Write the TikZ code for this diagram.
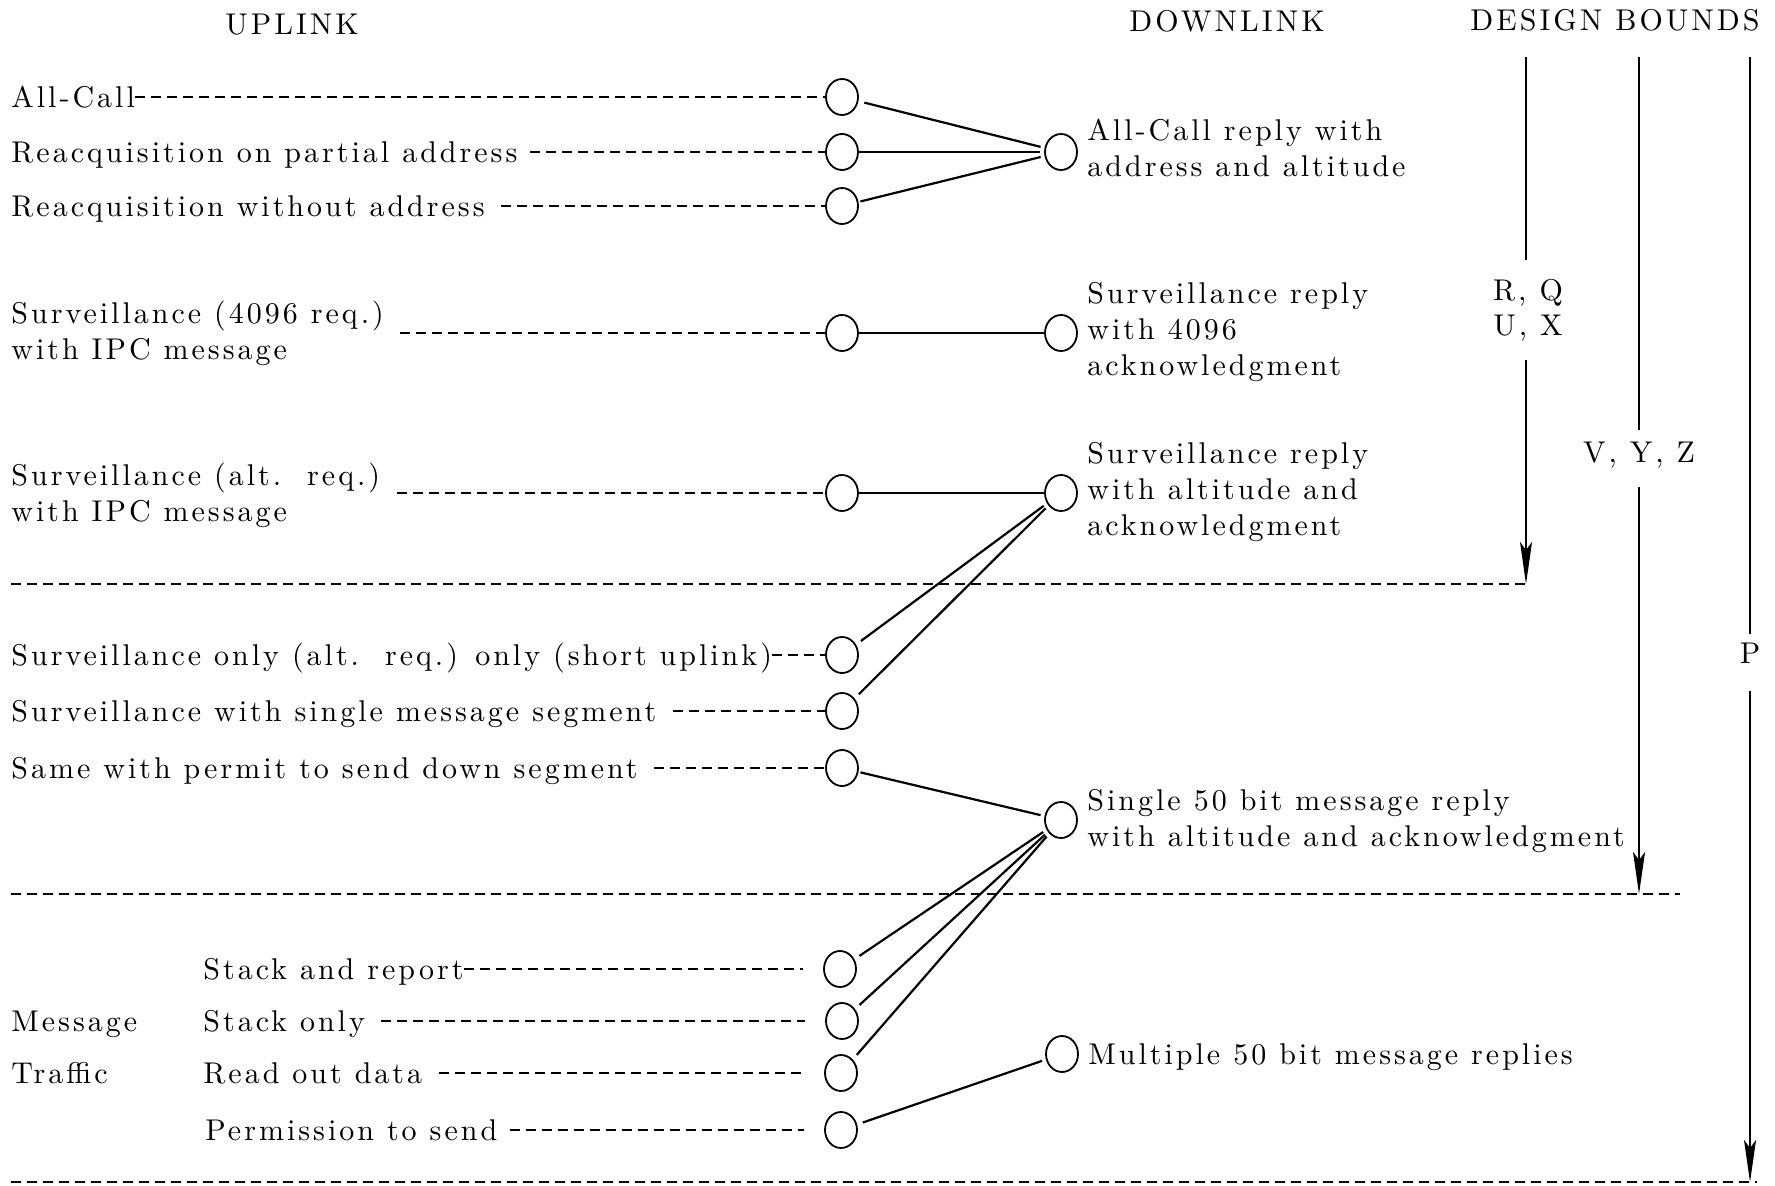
\documentclass[tikz,border=0pt]{standalone}
\usepackage{fontspec}
\setmainfont{lmroman10-regular}[Extension=.otf, LetterSpace=10]
\usetikzlibrary{arrows.meta,shapes.geometric}
\begin{document}
\begin{tikzpicture}[x=0.5pt,y=-0.5pt,
  every node/.style={font=\fontsize{15}{18}\selectfont, inner sep=0pt},
  lt/.style={anchor=mid west, yshift=-3pt},
  lt2/.style={anchor=west, align=left},
  hd/.style={anchor=center},
  dot/.style={draw, ellipse, minimum width=16pt, minimum height=18pt, line width=0.9pt},
  tdash/.style={dash pattern=on 5pt off 3pt, line width=0.9pt},
  sep/.style={dash pattern=on 5pt off 3pt, line width=1pt},
  conn/.style={line width=1.1pt},
  bnd/.style={line width=1.1pt},
  arr/.style={-{Stealth[length=21pt,width=6pt,inset=4pt]}}
]
\useasboundingbox (0,0) rectangle (1775,1186);

% headers
\node[hd] (hup) at (292,25) {UPLINK};
\node[hd] (hdown) at (1227,21) {DOWNLINK};
\node[hd] (hdb) at (1615,20) {DESIGN BOUNDS};

% uplink circles
\node[dot] (c1) at (842,97) {};
\node[dot] (c2) at (842,152) {};
\node[dot] (c3) at (842,206) {};
\node[dot] (c4) at (842,333) {};
\node[dot] (c5) at (842,493) {};
\node[dot] (c6) at (842,655) {};
\node[dot] (c7) at (842,711) {};
\node[dot] (c8) at (842,768) {};
\node[dot] (c9) at (840,969) {};
\node[dot] (c10) at (842,1021) {};
\node[dot] (c11) at (841,1073) {};
\node[dot] (c12) at (841,1130) {};

% downlink circles
\node[dot] (d1) at (1061,152) {};
\node[dot] (d2) at (1061,333) {};
\node[dot] (d3) at (1061,493) {};
\node[dot] (d4) at (1061,820) {};
\node[dot] (d5) at (1062,1054) {};

% uplink texts
\node[lt] (t1) at (11,97) {All-Call};
\node[lt] (t2) at (11,152) {Reacquisition on partial address};
\node[lt] (t3) at (11,206) {Reacquisition without address};
\node[lt2] (t4) at (11,333) {Surveillance (4096 req.)\\with IPC message};
\node[lt2] (t5) at (11,495) {Surveillance (alt.\ \ req.)\\with IPC message};
\node[lt] (t6) at (11,655) {Surveillance only (alt.\ \ req.) only (short uplink)};
\node[lt] (t7) at (11,711) {Surveillance with single message segment};
\node[lt] (t8) at (11,768) {Same with permit to send down segment};
\node[lt] (msg) at (11,1021) {Message};
\node[lt] (trf) at (11,1073) {Traffic};
\node[lt] (t9) at (203,969) {Stack and report};
\node[lt] (t10) at (203,1021) {Stack only};
\node[lt] (t11) at (203,1073) {Read out data};
\node[lt] (t12) at (205,1130) {Permission to send};

% downlink texts
\node[lt2] (e1) at (1087,148) {All-Call reply with\\address and altitude};
\node[lt2] (e2) at (1087,332) {Surveillance reply\\with 4096\\acknowledgment};
\node[lt2] (e3) at (1087,492) {Surveillance reply\\with altitude and\\acknowledgment};
\node[lt2] (e4) at (1087,821) {Single 50 bit message reply\\with altitude and acknowledgment};
\node[lt] (e5) at (1088,1054) {Multiple 50 bit message replies};

% dashed leaders
\draw[tdash] (t1.east |- c1) -- (c1.west);
\draw[tdash,shorten <=6pt] (t2.east |- c2) -- (c2.west);
\draw[tdash,shorten <=8pt] (t3.east |- c3) -- (c3.west);
\draw[tdash,shorten <=8pt] (t4.east |- c4) -- (c4.west);
\draw[tdash,shorten <=8pt] (t5.east |- c5) -- (c5.west);
\draw[tdash] (t6.east |- c6) -- (c6.west);
\draw[tdash,shorten <=8pt] (t7.east |- c7) -- (c7.west);
\draw[tdash,shorten <=8pt] (t8.east |- c8) -- (c8.west);
\draw[tdash,shorten >=10pt] (t9.east |- c9) -- (c9.west);
\draw[tdash,shorten <=8pt,shorten >=10pt] (t10.east |- c10) -- (c10.west);
\draw[tdash,shorten <=8pt,shorten >=10pt] (t11.east |- c11) -- (c11.west);
\draw[tdash,shorten <=6pt,shorten >=10pt] (t12.east |- c12) -- (c12.west);

% connectors
\draw[conn,shorten <=3pt,shorten >=2pt] (c1) -- (d1);
\draw[conn,shorten >=2pt] (c2) -- (d1);
\draw[conn,shorten <=1pt,shorten >=2pt] (c3) -- (d1);
\draw[conn] (c4) -- (d2);
\draw[conn] (c5) -- (d3);
\draw[conn,shorten <=3pt,shorten >=2pt] (c6) -- (d3);
\draw[conn,shorten <=3pt,shorten >=2pt] (c7) -- (d3);
\draw[conn,shorten <=1pt,shorten >=2pt] (c8) -- (d4);
\draw[conn,shorten <=3pt,shorten >=2pt] (c9) -- (d4);
\draw[conn,shorten <=3pt,shorten >=2pt] (c10) -- (d4);
\draw[conn,shorten <=3pt,shorten >=2pt] (c11) -- (d4);
\draw[conn,shorten <=3pt,shorten >=2pt] (c12) -- (d5);

% separators
\coordinate (s1a) at (11,584);  \coordinate (s1b) at (1530,584);
\coordinate (s2a) at (11,894);  \coordinate (s2b) at (1680,894);
\coordinate (s3a) at (11,1182); \coordinate (s3b) at (1757,1182);
\draw[sep] (s1a) -- (s1b);
\draw[sep] (s2a) -- (s2b);
\draw[sep] (s3a) -- (s3b);

% design bounds
\node[hd] (rq) at (1528,293) {R, Q};
\node[hd] (ux) at (1528,328) {U, X};
\node[hd] (vyz) at (1639,455) {V, Y, Z};
\node[hd] (p) at (1750,653) {P};
\coordinate (b1t) at (1526,57);  \coordinate (b1m) at (1526,260);
\coordinate (b1r) at (1526,360); \coordinate (b1e) at (1526,584);
\coordinate (b2t) at (1639,57);  \coordinate (b2m) at (1639,430);
\coordinate (b2r) at (1639,487); \coordinate (b2e) at (1639,894);
\coordinate (b3t) at (1750,57);  \coordinate (b3m) at (1750,634);
\coordinate (b3r) at (1750,691); \coordinate (b3e) at (1750,1182);
\draw[bnd] (b1t) -- (b1m);
\draw[bnd,arr] (b1r) -- (b1e);
\draw[bnd] (b2t) -- (b2m);
\draw[bnd,arr] (b2r) -- (b2e);
\draw[bnd] (b3t) -- (b3m);
\draw[bnd,arr] (b3r) -- (b3e);
\end{tikzpicture}
\end{document}
